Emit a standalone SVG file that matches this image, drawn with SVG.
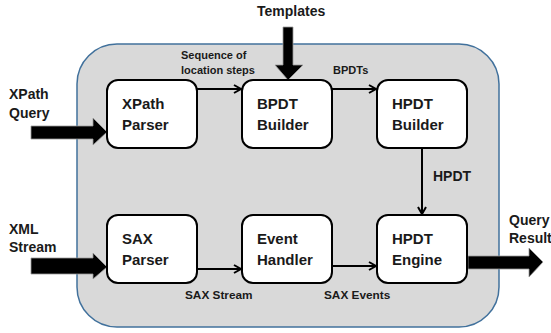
<svg xmlns="http://www.w3.org/2000/svg" width="551" height="333" viewBox="0 0 551 333">
<defs>
<marker id="ah" markerWidth="10" markerHeight="10" refX="8" refY="5" orient="auto" markerUnits="userSpaceOnUse">
<path d="M1,1 L8,5 L1,9" fill="none" stroke="#000" stroke-width="2"/>
</marker>
<style>
.node rect{fill:#fff;stroke:#000;stroke-width:2}
.nt{font-family:"Liberation Sans",Arial,sans-serif;font-weight:bold;font-size:15px;fill:#1a1a1a}
.lb{font-family:"Liberation Sans",Arial,sans-serif;font-weight:bold;font-size:14px;fill:#1a1a1a}
.sl{font-family:"Liberation Sans",Arial,sans-serif;font-weight:bold;font-size:11px;fill:#1a1a1a}
.bl{font-family:"Liberation Sans",Arial,sans-serif;font-weight:bold;font-size:11.8px;fill:#1a1a1a}
.conn line{stroke:#000;stroke-width:2;marker-end:url(#ah)}
.big{fill:#000;stroke:#999;stroke-width:0.8}
</style>
</defs>
<rect width="551" height="333" fill="#fff"/>
<rect id="container" x="77" y="44" width="422" height="283" rx="40" ry="40" fill="#d9d9d9" stroke="#41719c" stroke-width="1.5"/>

<g id="inputs">
<text class="lb" x="257" y="16">Templates</text>
<path class="big" d="M283,27 L293,27 L293,65 L303,65 L288,80 L275,65 L283,65 Z"/>
<text class="lb" x="9" y="99">XPath</text>
<text class="lb" x="9" y="118">Query</text>
<path class="big" d="M31,126 L93,126 L93,118 L107,132 L93,145 L93,139 L31,139 Z"/>
<text class="lb" x="9" y="234">XML</text>
<text class="lb" x="9" y="252">Stream</text>
<path class="big" d="M31,258 L93,258 L93,253 L107,267 L93,279 L93,274 L31,274 Z"/>
<text class="lb" x="509" y="225">Query</text>
<text class="lb" x="509" y="243">Result</text>
<path class="big" d="M468,256 L529,256 L529,248 L543,262 L529,277 L529,269 L468,269 Z"/>
</g>

<g id="connectors" class="conn">
<line x1="197" y1="89" x2="241" y2="89"/>
<line x1="332" y1="89" x2="376" y2="89"/>
<line x1="422" y1="148" x2="422" y2="214"/>
<line x1="197" y1="269" x2="241" y2="269"/>
<line x1="332" y1="266" x2="376" y2="266"/>
</g>

<g id="labels">
<text class="sl" x="181" y="59">Sequence of</text>
<text class="sl" x="181" y="74">location steps</text>
<text class="sl" x="333" y="74">BPDTs</text>
<text class="lb" x="433" y="181">HPDT</text>
<text class="bl" x="185" y="299">SAX Stream</text>
<text class="bl" x="324" y="299">SAX Events</text>
</g>

<g id="xpath-parser" class="node">
<rect x="107" y="80" width="90" height="68" rx="11"/>
<text class="nt" x="122" y="109">XPath</text>
<text class="nt" x="122" y="130">Parser</text>
</g>
<g id="bpdt-builder" class="node">
<rect x="242" y="80" width="90" height="68" rx="11"/>
<text class="nt" x="257" y="109">BPDT</text>
<text class="nt" x="257" y="130">Builder</text>
</g>
<g id="hpdt-builder" class="node">
<rect x="377" y="80" width="90" height="68" rx="11"/>
<text class="nt" x="392" y="109">HPDT</text>
<text class="nt" x="392" y="130">Builder</text>
</g>
<g id="sax-parser" class="node">
<rect x="107" y="215" width="90" height="68" rx="11"/>
<text class="nt" x="122" y="244">SAX</text>
<text class="nt" x="122" y="265">Parser</text>
</g>
<g id="event-handler" class="node">
<rect x="242" y="215" width="90" height="68" rx="11"/>
<text class="nt" x="257" y="244">Event</text>
<text class="nt" x="257" y="265">Handler</text>
</g>
<g id="hpdt-engine" class="node">
<rect x="377" y="215" width="90" height="68" rx="11"/>
<text class="nt" x="392" y="244">HPDT</text>
<text class="nt" x="392" y="265">Engine</text>
</g>
</svg>
